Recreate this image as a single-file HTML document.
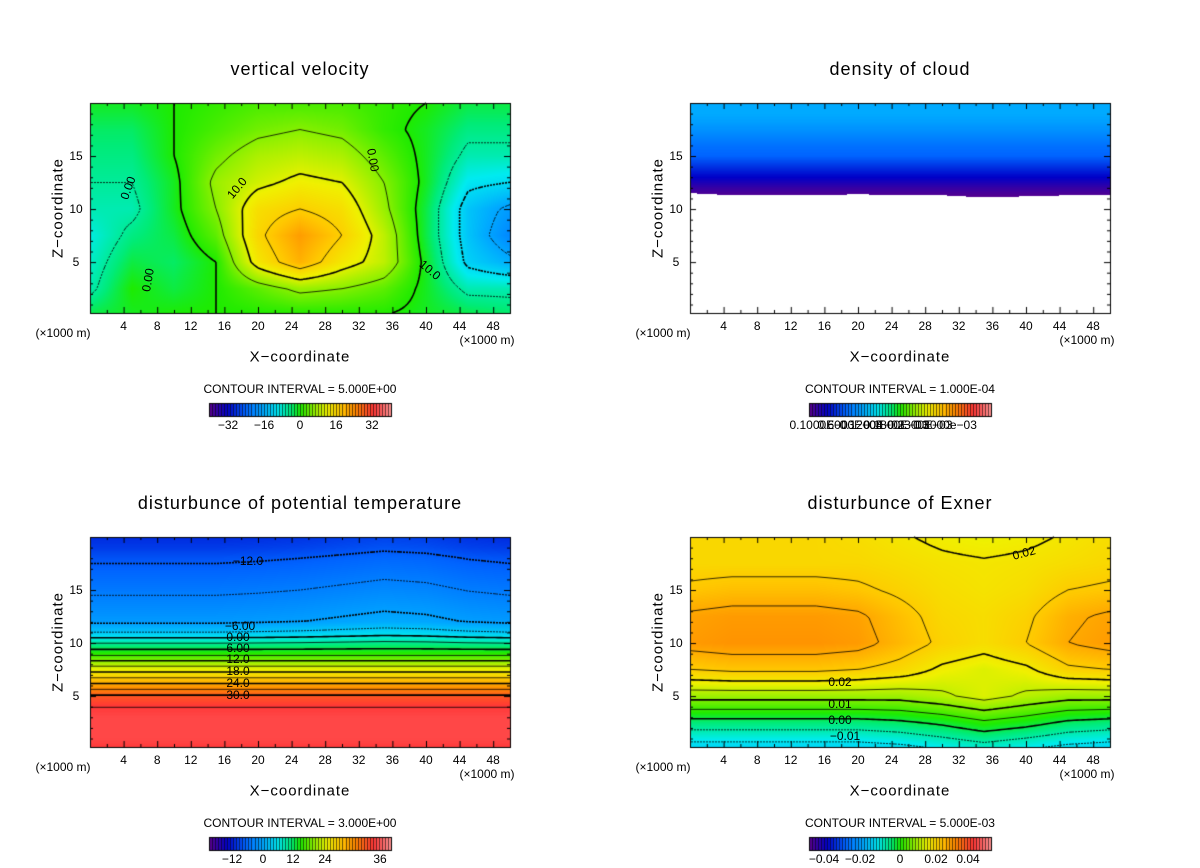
<!DOCTYPE html>
<html><head><meta charset="utf-8">
<style>
html,body{margin:0;padding:0;background:#fff;}
#wrap{position:relative;width:1200px;height:868px;overflow:hidden;font-family:"Liberation Sans",sans-serif;color:#000;}
canvas{position:absolute;left:0;top:0;}
.t{position:absolute;white-space:nowrap;transform:translate(-50%,-50%);line-height:1;}
.title{font-size:18px;letter-spacing:1px;}
.axl{font-size:15px;letter-spacing:1px;}
.tk{font-size:12px;}
.ci{font-size:12px;}
</style></head>
<body>
<div id="wrap">
<canvas id="cv" width="1200" height="868"></canvas>
</div>
<script>
// ---------- DATA ----------
// grids: rows z = 0,2.5,...,20 (bottom->top); cols x = 0,5,...,50 (km)
const xCats = [0,5,10,15,20,25,30,35,40,45,50];
const zRows = [0,2.5,5,7.5,10,12.5,15,17.5,20];
const wGrid = [
 [-2,-1,0,0,0,0,0,0,-1,-2,-3],
 [-6,0,-2,0,3,6,5,3,-1,-6,-6],
 [-7,-2,-3,0,12,18,12,8,-1,-11,-14],
 [-8,-4,-2,3,14,20,15,8,-2,-12,-18],
 [-6,-6,-1,5,13,15,13,6,-2,-12,-16],
 [-5,-5,-1,6,9,11,10,5,-1,-9,-10],
 [-4,-4,0,4,7,8,7,3,-1,-6,-6],
 [-3,-3,0,2,4,5,4,1,-1,-4,-4],
 [-1,-1,0,1,2,2,2,1,0,-2,-2]
];
const wLevels = [-15,-10,-5,0,5,10,15];
// cloud density: z = 11..20 profile, base per column
const cloudZ = [11,12,13,14,15,16,17,18,19,20];
const cloudProfile = [0,0.00004,0.0001,0.00015,0.0002,0.00022,0.00025,0.00028,0.0003,0.0003];
const cloudBase = [11.5,11.3,11.3,11.3,11.4,11.3,11.3,11.1,11.2,11.3,11.3];
// potential temperature disturbance profile z = 0..20 step 1
const thetaProfile = [33,34,34,34,33,30.5,25,19.5,14,8,3,-3,-6.5,-7.5,-8.5,-9.5,-10.5,-11.5,-12.5,-14,-15];
const thetaAnom = [0,0,0,0,0.2,0.5,1,1.5,1.2,0.4,0];
const thetaLevels = [-12,-9,-6,-3,0,3,6,9,12,15,18,21,24,27,30,33];
// exner disturbance grid
const exGrid = [
 [-.013,-.013,-.013,-.013,-.013,-.012,-.010,-.008,-.010,-.012,-.013],
 [-.002,-.002,-.002,-.002,-.002,-.001,.001,.004,.002,-.001,-.002],
 [.012,.012,.012,.012,.012,.012,.014,.017,.014,.012,.012],
 [.025,.026,.026,.026,.025,.023,.019,.017,.019,.024,.025],
 [.032,.033,.033,.033,.032,.028,.024,.022,.025,.030,.032],
 [.031,.032,.032,.032,.031,.027,.023,.022,.024,.029,.031],
 [.026,.027,.027,.027,.026,.024,.022,.021,.022,.025,.026],
 [.023,.023,.023,.023,.023,.022,.021,.0205,.021,.022,.023],
 [.023,.023,.023,.023,.022,.0205,.019,.018,.019,.0205,.022]
];
const exLevels = [-0.015,-0.01,-0.005,0,0.005,0.01,0.015,0.02,0.025,0.03];
const exThick = [0,0.01,0.02];
const xTickLabels = [4,8,12,16,20,24,28,32,36,40,44,48];
const zTickLabels = [5,10,15];

// ---------- helpers ----------
const W=420,H=210,XMAX=50,ZMIN=0.2,ZMAX=20;
const stops=[[0,90,0,140],[0.1,0,0,200],[0.2,0,100,255],[0.3,0,170,255],[0.38,0,235,240],[0.45,0,235,120],[0.5,30,235,0],[0.58,150,240,0],[0.65,240,240,0],[0.72,255,200,0],[0.8,255,140,0],[0.9,255,55,55],[1,255,150,150]];
function cmap(t){t=Math.max(0,Math.min(1,t));for(let i=1;i<stops.length;i++){if(t<=stops[i][0]){const a=stops[i-1],b=stops[i],f=(t-a[0])/(b[0]-a[0]);return [a[1]+f*(b[1]-a[1]),a[2]+f*(b[2]-a[2]),a[3]+f*(b[3]-a[3])];}}return stops[stops.length-1].slice(1);}
function interp1(arr,x0,dx,x){let f=(x-x0)/dx;f=Math.max(0,Math.min(arr.length-1,f));const i=Math.min(arr.length-2,Math.floor(f)),r=f-i;return arr[i]*(1-r)+arr[i+1]*r;}
function bil(g,x,z){let fx=Math.max(0,Math.min(10,x/5)),fz=Math.max(0,Math.min(8,z/2.5));const i=Math.min(9,Math.floor(fx)),j=Math.min(7,Math.floor(fz)),rx=fx-i,rz=fz-j;const a=g[j][i]*(1-rx)+g[j][i+1]*rx,b=g[j+1][i]*(1-rx)+g[j+1][i+1]*rx;return a*(1-rz)+b*rz;}
const sx=x=>x/XMAX*W, sz=z=>(ZMAX-z)/(ZMAX-ZMIN)*H;
const ix=px=>px/W*XMAX, iz=py=>ZMAX-py/H*(ZMAX-ZMIN);

const panels=[
 {ox:90,oy:103,f:(x,z)=>bil(wGrid,x,z),t:v=>0.5+v/72,levels:wLevels,thick:v=>v===0||v===10||v===-10},
 {ox:690,oy:103,f:(x,z)=>{const b=interp1(cloudBase,0,5,x);return z<b?NaN:interp1(cloudProfile,11,1,z);},t:v=>v*1000,levels:[]},
 {ox:90,oy:537,f:(x,z)=>{const w=z>=11?1:Math.max(0,(z-9)/2);return interp1(thetaProfile,0,1,z)+w*interp1(thetaAnom,0,5,x);},t:v=>0.38+v*0.0158,levels:thetaLevels,thick:v=>v%6===0},
 {ox:690,oy:537,f:(x,z)=>bil(exGrid,x,z),t:v=>0.47+v*9.7,levels:exLevels,thick:v=>exThick.some(q=>Math.abs(q-v)<1e-6)}
];
const cv=document.getElementById('cv'),ctx=cv.getContext('2d');
panels.forEach(p=>{
 const img=ctx.createImageData(W,H);
 for(let py=0;py<H;py++)for(let px=0;px<W;px++){
  const v=p.f(ix(px+0.5),iz(py+0.5)),k=(py*W+px)*4;
  if(isNaN(v)){img.data[k]=255;img.data[k+1]=255;img.data[k+2]=255;}
  else{const c=cmap(p.t(v));img.data[k]=c[0];img.data[k+1]=c[1];img.data[k+2]=c[2];}
  img.data[k+3]=255;}
 ctx.putImageData(img,p.ox,p.oy);
 // contours (marching squares)
 const st=3,nx=Math.floor(W/st)+1,nz=Math.floor(H/st)+1,F=[];
 for(let j=0;j<nz;j++){F[j]=[];for(let i=0;i<nx;i++)F[j][i]=p.f(ix(i*st),iz(j*st));}
 p.levels.forEach(L=>{
  ctx.beginPath();
  for(let j=0;j<nz-1;j++)for(let i=0;i<nx-1;i++){
   const c=[[i,j],[i+1,j],[i+1,j+1],[i,j+1]],v=c.map(q=>F[q[1]][q[0]]),pts=[];
   for(let e=0;e<4;e++){const a=v[e],b=v[(e+1)%4];if((a<L)!==(b<L)){const r=(L-a)/(b-a),A=c[e],B=c[(e+1)%4];pts.push([p.ox+(A[0]+r*(B[0]-A[0]))*st,p.oy+(A[1]+r*(B[1]-A[1]))*st]);}}
   for(let k=0;k+1<pts.length;k+=2){ctx.moveTo(pts[k][0],pts[k][1]);ctx.lineTo(pts[k+1][0],pts[k+1][1]);}
  }
  ctx.strokeStyle='#000';ctx.lineWidth=p.thick(L)?1.6:0.8;ctx.setLineDash(L<0?[2,2]:[]);ctx.stroke();
 });
 ctx.setLineDash([]);
 // frame & ticks
 ctx.strokeStyle='#000';ctx.lineWidth=1;ctx.strokeRect(p.ox+0.5,p.oy+0.5,W,H);
 ctx.beginPath();
 for(let x=2;x<50;x+=2){const X=p.ox+sx(x)+0.5,l=x%4===0?6:3;ctx.moveTo(X,p.oy+H);ctx.lineTo(X,p.oy+H-l);ctx.moveTo(X,p.oy);ctx.lineTo(X,p.oy+l);}
 for(let z=1;z<20;z++){const Y=p.oy+sz(z)+0.5,l=z%5===0?6:3;ctx.moveTo(p.ox,Y);ctx.lineTo(p.ox+l,Y);ctx.moveTo(p.ox+W,Y);ctx.lineTo(p.ox+W-l,Y);}
 ctx.stroke();
 // colorbar
 const bx=p.ox+119,by=p.oy+300,bw=182,bh=13,n=60;
 for(let i=0;i<n;i++){const c=cmap((i+0.5)/n);ctx.fillStyle=`rgb(${c[0]|0},${c[1]|0},${c[2]|0})`;ctx.fillRect(bx+i*bw/n,by,bw/n+0.5,bh);}
 ctx.strokeStyle='rgba(0,0,0,0.6)';ctx.beginPath();for(let i=1;i<n;i++){const X=Math.round(bx+i*bw/n)+0.5;ctx.moveTo(X,by);ctx.lineTo(X,by+bh);}ctx.stroke();
 ctx.strokeStyle='#000';ctx.strokeRect(bx+0.5,by+0.5,bw,bh);
});

// ---------- text ----------
const wrap=document.getElementById('wrap');
function txt(s,x,y,cls,name,rot){const d=document.createElement('div');d.className='t '+cls;d.textContent=s;d.style.left=x+'px';d.style.top=y+'px';if(rot)d.style.transform='translate(-50%,-50%) rotate(-90deg)';
 
 
 wrap.appendChild(d);}
const meta=[
 {title:'vertical velocity',ci:'CONTOUR INTERVAL = 5.000E+00',cb:[['-32',228],['-16',264],['0',300],['16',336],['32',372]]},
 {title:'density of cloud',ci:'CONTOUR INTERVAL = 1.000E-04',cb:[['0.1000E-03',222],['0.6000E-04',250],['0.1200E-03',272],['0.1800E-03',296],['0.2300E-03',320],['0.3000e-03',345]]},
 {title:'disturbunce of potential temperature',ci:'CONTOUR INTERVAL = 3.000E+00',cb:[['-12',232],['0',263],['12',293],['24',325],['36',380]]},
 {title:'disturbunce of Exner',ci:'CONTOUR INTERVAL = 5.000E-03',cb:[['-0.04',224],['-0.02',260],['0',300],['0.02',336],['0.04',368]]}
];
meta.forEach((m,k)=>{
 const ox=(k%2)*600,oy=Math.floor(k/2)*434;
 txt(m.title,ox+300,oy+69,'title','panel-title');
 txt('Z\u2212coordinate',ox+58,oy+208,'axl','y-axis-title',true);
 txt('X\u2212coordinate',ox+300,oy+357,'axl','x-axis-title');
 zTickLabels.forEach(z=>txt(String(z),ox+76,oy+103+sz(z),'tk','y-tick-label'));
 xTickLabels.forEach(x=>txt(String(x),ox+90+sx(x),oy+326,'tk','x-tick-label'));
 txt('(\u00d71000 m)',ox+63,oy+333,'tk','x-unit-left');
 txt('(\u00d71000 m)',ox+487,oy+340,'tk','x-unit-right');
 txt(m.ci,ox+300,oy+389,'ci','contour-interval');
 m.cb.forEach(c=>txt(c[0].replace('-','\u2212'),ox+c[1],oy+425,'tk','colorbar-label'));
});
// contour labels
[['0.00',128,188,-70],['10.0',237,188,-50],['0.00',373,160,80],['0.00',148,280,-80],['10.0',430,270,40],
 ['\u221212.0',248,561,0],['\u22126.00',240,626,0],['0.00',238,637,0],['6.00',238,648,0],['12.0',238,659,0],['18.0',238,671,0],['24.0',238,683,0],['30.0',238,695,0],
 ['0.02',1024,553,-15],['0.02',840,682,0],['0.01',840,704,0],['0.00',840,720,0],['\u22120.01',845,736,0]
].forEach(l=>{const d=document.createElement('div');d.className='t tk';d.textContent=l[0];d.style.left=l[1]+'px';d.style.top=l[2]+'px';d.style.transform=`translate(-50%,-50%) rotate(${l[3]}deg)`;
 
 
 wrap.appendChild(d);});
</script>
</body></html>
